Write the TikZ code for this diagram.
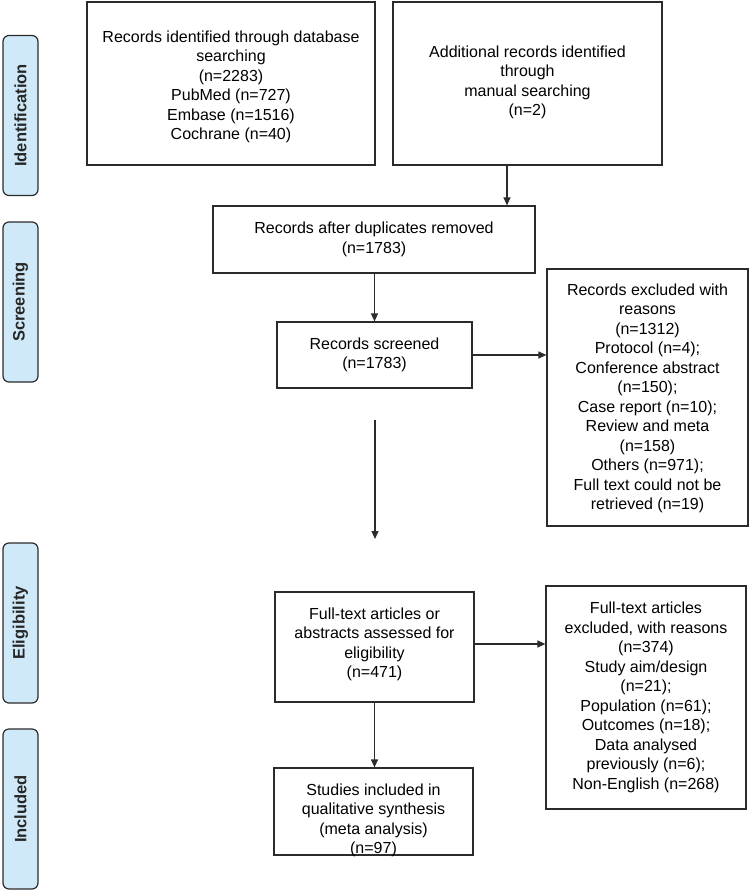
\documentclass[tikz,border=0pt]{standalone}
\usepackage{fontspec}
\setmainfont{Liberation Sans}
\usetikzlibrary{arrows.meta}
\definecolor{phase}{HTML}{CFE9F9}
\definecolor{edge}{HTML}{2B2B2B}
\newcommand{\boxtext}[2]{\raisebox{#1}[\height][\depth]{\begin{tabular}{@{}c@{}}#2\end{tabular}}}
\begin{document}
\begin{tikzpicture}[x=1pt,y=-1pt,
  box/.style={draw=edge, line width=1.2pt, inner sep=0pt,
    font=\fontsize{16}{19.5}\selectfont, text=black},
  phasebox/.style={draw=edge, line width=1.2pt, fill=phase, rounded corners=6pt,
    minimum width=160pt, minimum height=35pt, inner sep=0pt, rotate=90,
    font=\fontsize{16.5}{18}\selectfont\bfseries, text=black!85},
  arr/.style={draw=edge, line width=1.2pt, -{Triangle[length=8pt,width=7pt]}}]
\useasboundingbox (0,0) rectangle (750,891);

% phase labels
\node[phasebox] (pid) at (20.5,115.5) {Identification};
\node[phasebox] (pscr) at (20.5,302) {Screening};
\node[phasebox] (pel) at (20.5,623) {Eligibility};
\node[phasebox] (pinc) at (20.5,809) {Included};

% boxes
\node[box, minimum width=288pt, minimum height=163pt] (db) at (231,83.5)
  {\boxtext{-3.5pt}{Records identified through database\\searching\\(n=2283)\\PubMed (n=727)\\Embase (n=1516)\\Cochrane (n=40)}};
\node[box, minimum width=269pt, minimum height=163pt] (add) at (527.5,83.5)
  {\boxtext{1pt}{Additional records identified\\through\\manual searching\\(n=2)}};
\node[box, minimum width=322pt, minimum height=67pt] (dup) at (374,239.5)
  {\boxtext{0pt}{Records after duplicates removed\\(n=1783)}};
\node[box, minimum width=195pt, minimum height=66pt] (scr) at (374.5,355)
  {\boxtext{0pt}{Records screened\\(n=1783)}};
\node[box, minimum width=201pt, minimum height=257pt] (exc) at (647.5,397.5)
  {\boxtext{-1pt}{Records excluded with\\reasons\\(n=1312)\\Protocol (n=4);\\Conference abstract\\(n=150);\\Case report (n=10);\\Review and meta\\(n=158)\\Others (n=971);\\Full text could not be\\retrieved (n=19)}};
\node[box, minimum width=199pt, minimum height=110pt] (full) at (374.5,647)
  {\boxtext{2.5pt}{Full-text articles or\\abstracts assessed for\\eligibility\\(n=471)}};
\node[box, minimum width=199pt, minimum height=87pt] (inc) at (373.5,811.5)
  {\boxtext{-9pt}{Studies included in\\qualitative synthesis\\(meta analysis)\\(n=97)}};
\node[box, minimum width=200pt, minimum height=223pt] (fexc) at (646,697.5)
  {\boxtext{0pt}{Full-text articles\\excluded, with reasons\\(n=374)\\Study aim/design\\(n=21);\\Population (n=61);\\Outcomes (n=18);\\Data analysed\\previously (n=6);\\Non-English (n=268)}};

% free arrow
\coordinate (gapA) at (375,420);
\coordinate (gapB) at (375,539);

% connectors
\draw[arr] ([xshift=-20.5pt]add.south) -- ([xshift=-20.5pt]add.south |- dup.north);
\draw[arr] (dup.south -| scr.north) -- (scr.north);
\draw[arr] (scr.east) -- (scr.east -| exc.west);
\draw[arr] (gapA) -- (gapB);
\draw[arr] ([yshift=3pt]full.east) -- ([yshift=3pt]full.east -| fexc.west);
\draw[arr] (full.south) -- (full.south |- inc.north);
\end{tikzpicture}
\end{document}
